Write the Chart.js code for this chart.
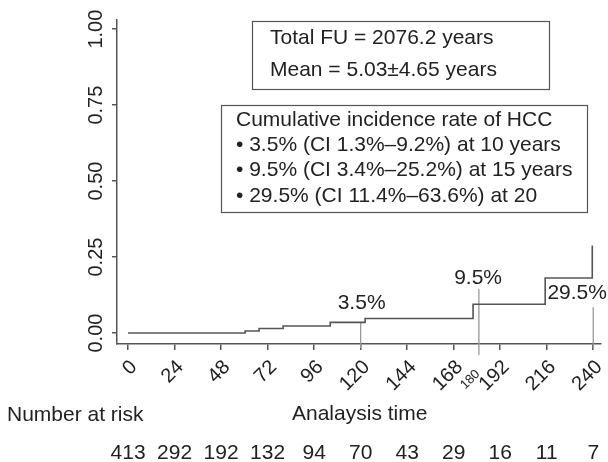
<!DOCTYPE html>
<html lang="en">
<head>
<meta charset="UTF-8">
<title>Cumulative incidence of HCC</title>
<script src="https://cdn.jsdelivr.net/npm/chart.js"></script>
<style>
  body { margin: 0; background: #fff; }
  #wrap { width: 608px; height: 462px; }
</style>
</head>
<body>
<div id="wrap"><canvas id="cif" width="608" height="462"></canvas></div>
<script>
    // data
    var stepTimes = [0, 60.4, 67.6, 80, 104.3, 122.3, 178, 215.2, 239.5];
    var stepValues = [0, 0.007, 0.015, 0.023, 0.035, 0.048, 0.095, 0.181, 0.288];

    var xTicks = [0, 24, 48, 72, 96, 120, 144, 168, 192, 216, 240];
    var yTicks = [0, 0.25, 0.5, 0.75, 1];
    var yTickLabels = ["0.00", "0.25", "0.50", "0.75", "1.00"];

    var atRisk = [413, 292, 192, 132, 94, 70, 43, 29, 16, 11, 7];

    // vertical guide lines at 10, 15 and 20 years
    var guideX = [120, 181, 240];
    var guideTop = [0.036, 0.145, 0.085];
    var guideBottom = [-0.05, -0.072, -0.05];

    var pctLabels = ["3.5%", "9.5%", "29.5%"];
    var pctX = [120.5, 180.6, 231.7];
    var pctY = [0.099, 0.181, 0.132];

    var boxFU = ["Total FU = 2076.2 years", "Mean = 5.03\u00b14.65 years"];
    var boxHCC = [
        "Cumulative incidence rate of HCC",
        "\u2022 3.5% (CI 1.3%\u20139.2%) at 10 years",
        "\u2022 9.5% (CI 3.4%\u201325.2%) at 15 years",
        "\u2022 29.5% (CI 11.4%\u201363.6%) at 20"
    ];

    var fam = "'Liberation Sans', Arial, Helvetica, sans-serif";
    var axisCol = "#555";
    var txtCol = "#222";

    var curve = stepTimes.map(function (t, i) { return { x: t, y: stepValues[i] }; });

    var datasets = [{
        data: curve,
        stepped: 'before',
        borderColor: '#555',
        borderWidth: 1.6,
        pointRadius: 0,
        fill: false
    }];
    guideX.forEach(function (gx, i) {
        datasets.push({
            data: [{ x: gx, y: guideTop[i] }, { x: gx, y: guideBottom[i] }],
            borderColor: '#999',
            borderWidth: 1.3,
            pointRadius: 0,
            clip: false,
            fill: false
        });
    });

    function rotText(ctx, s, x, y, ang, align) {
        ctx.save();
        ctx.translate(x, y);
        ctx.rotate(ang);
        ctx.textAlign = align;
        ctx.fillText(s, 0, 0);
        ctx.restore();
    }

    var extras = {
        id: 'extras',
        afterDraw: function (chart) {
            var ctx = chart.ctx;
            var xs = chart.scales.x;
            var ys = chart.scales.y;
            ctx.save();
            ctx.fillStyle = txtCol;
            ctx.textBaseline = "middle";

            // y tick labels, rotated
            ctx.font = "20px " + fam;
            yTicks.forEach(function (v, i) {
                rotText(ctx, yTickLabels[i], 96, ys.getPixelForValue(v), -Math.PI / 2, "center");
            });

            // x tick labels, rotated 45 degrees
            xTicks.forEach(function (v) {
                rotText(ctx, String(v), xs.getPixelForValue(v) + 6, 364, -Math.PI / 4, "right");
            });

            // small 180 label
            ctx.font = "13px " + fam;
            rotText(ctx, "180", xs.getPixelForValue(180) + 1, 372, -Math.PI / 4, "right");

            // percent labels
            ctx.font = "21px " + fam;
            ctx.textAlign = "center";
            pctLabels.forEach(function (s, i) {
                ctx.fillText(s, xs.getPixelForValue(pctX[i]), ys.getPixelForValue(pctY[i]));
            });

            // text boxes
            ctx.strokeStyle = "#555";
            ctx.lineWidth = 1.2;
            ctx.strokeRect(252.5, 21.5, 297, 68);
            ctx.strokeRect(221.5, 105.5, 366, 107);
            ctx.textAlign = "left";
            ctx.fillText(boxFU[0], 270, 38);
            ctx.fillText(boxFU[1], 270, 70);
            boxHCC.forEach(function (s, i) {
                ctx.fillText(s, 236, 120 + i * 25.3);
            });

            // number at risk
            ctx.fillText("Number at risk", 7, 415);
            ctx.fillText("Analaysis time", 292, 414);
            ctx.textAlign = "center";
            atRisk.forEach(function (n, i) {
                ctx.fillText(String(n), xs.getPixelForValue(xTicks[i]), 453);
            });
            ctx.restore();
        }
    };

    new Chart(document.getElementById('cif'), {
        type: 'line',
        data: { datasets: datasets },
        options: {
            responsive: false,
            animation: false,
            devicePixelRatio: 1,
            layout: { padding: { top: 20, right: 7, left: 0, bottom: 0 } },
            plugins: { legend: { display: false }, tooltip: { enabled: false } },
            scales: {
                x: {
                    type: 'linear',
                    min: -5.7,
                    max: 244,
                    afterBuildTicks: function (s) { s.ticks = xTicks.map(function (v) { return { value: v }; }); },
                    afterFit: function (s) { s.height = 118; },
                    border: { color: axisCol, width: 1.5 },
                    grid: { drawOnChartArea: false, drawTicks: true, tickLength: 6, color: axisCol, lineWidth: 1.5 },
                    ticks: { display: false }
                },
                y: {
                    type: 'linear',
                    min: -0.036,
                    max: 1.03,
                    afterBuildTicks: function (s) { s.ticks = yTicks.map(function (v) { return { value: v }; }); },
                    afterFit: function (s) { s.width = 117; },
                    border: { color: axisCol, width: 1.5 },
                    grid: { drawOnChartArea: false, drawTicks: true, tickLength: 5, color: axisCol, lineWidth: 1.5 },
                    ticks: { display: false }
                }
            }
        },
        plugins: [extras]
    });
</script>
</body>
</html>
